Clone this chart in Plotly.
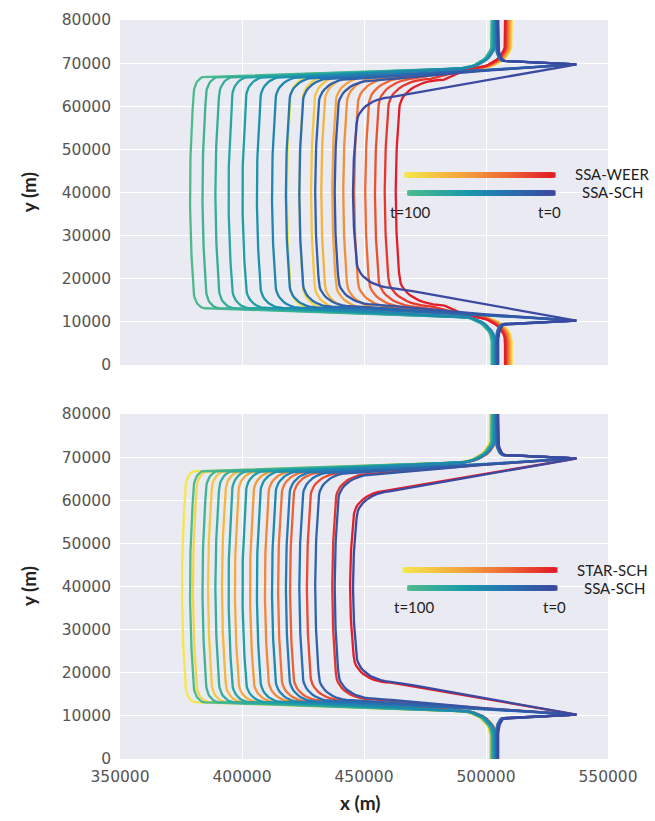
import numpy as np
import plotly.graph_objects as go
from plotly.colors import sample_colorscale

# ---------------- data ----------------
X_RANGE = [350000, 550000]
Y_RANGE = [0, 80000]
X_TICKS = [350000, 400000, 450000, 500000, 550000]
Y_TICKS = [0, 10000, 20000, 30000, 40000, 50000, 60000, 70000, 80000]

# calving-front x position at mid-channel, ordered t=0 ... t=100
SCH_FRONT = [445500, 438000, 430000, 423500, 418000, 412300, 406100, 400200, 394500, 389100, 383800, 378700]
WEER_FRONT = [463000, 458500, 454500, 450500, 446000, 441500, 437000, 432500, 428300, 423500, 418400]
STAR_FRONT = [444300, 437000, 426600, 419700, 414800, 409400, 403300, 397100, 391800, 386100, 379900, 375400]

# x of the upstream (vertical) boundary segment, t=0 ... t=100
SCH_TOP_X = [505000, 504800, 504500, 504300, 504000, 503700, 503500, 503200, 503000, 502700, 502500, 502300]
WEER_TOP_X = [507800, 508100, 508400, 508700, 509000, 509300, 509500, 509800, 510000, 510300, 510500]
STAR_TOP_X = [504500, 504200, 504000, 503700, 503500, 503200, 503000, 502700, 502400, 502100, 501900, 501700]

# vertical shift of the lateral-margin band for each contour, t=0 ... t=100
SCH_BAND_OFF = [-5600, -1600, -1000, -700, -400, -200, 0, 150, 300, 450, 600, 750]
WEER_BAND_OFF = [-2000, -1700, -1400, -1200, -1000, -800, -600, -400, -200, 0, 200]
STAR_BAND_OFF = [-5400, -1400, -1000, -700, -400, -200, 0, 150, 300, 450, 600, 800]

SPIKE_TIP = (537000, 69700)

TOP_LABELS = ["SSA-WEER", "SSA-SCH"]
BOT_LABELS = ["STAR-SCH", "SSA-SCH"]
T_LABELS = ["t=100", "t=0"]

# colour scales: position 0 -> t=0, 1 -> t=100
WARM = [[0.0, "#E31E28"], [0.3, "#EE6734"], [0.55, "#F29A3C"], [0.8, "#F5C443"], [1.0, "#F4E74C"]]
COOL = [[0.0, "#3B4AA0"], [0.35, "#2478B4"], [0.6, "#1A9BA8"], [1.0, "#4DBA8E"]]
# ----------------------------------------------------------------


def band(x):
    return 66000 + (x - 380000) * 0.0208


def contour(x_t, x_f, off, spike, slant):
    pts = []
    for y in np.linspace(80000, 74500, 6):
        pts.append((x_t, y))
    th = np.linspace(0, np.pi / 2, 12)[1:]
    if spike:
        for t in th:
            pts.append((x_t + 3000 - 3000 * np.cos(t), 74500 - 4000 * np.sin(t)))
        pts.append(SPIKE_TIP)
        if not slant:
            pts.append((500000, band(500000) + 0.15 * off))
    else:
        for t in th:
            pts.append((x_t - 15000 + 15000 * np.cos(t), 74500 - 5800 * np.sin(t)))
    xs, ys = pts[-1]
    bulge = 1500
    xc = x_f + bulge
    rx = 4000 + 0.16 * (x_f - 375000)
    ry = 4000 + 0.03 * (x_f - 375000)
    x_cs = xc + rx
    y_cs = band(x_cs) + off
    for s in np.linspace(0, 1, 25)[1:]:
        pts.append((xs + (x_cs - xs) * s, ys + (y_cs - ys) * s))
    for t in np.linspace(0, np.pi / 2, 14)[1:]:
        pts.append((x_cs - rx * np.sin(t), y_cs - ry + ry * np.cos(t)))
    y_top = y_cs - ry
    for y in np.linspace(y_top, 40000, 25)[1:]:
        u = (y - 40000) / (y_top - 40000)
        pts.append((x_f + bulge * u * u, y))
    full = pts + [(x, 80000 - y) for (x, y) in reversed(pts[:-1])]
    xs_, ys_ = zip(*full)
    return list(xs_), list(ys_)


def add_run(fig, fronts, tops, offs, scale, spike_n, xa, ya):
    n = len(fronts)
    cols = sample_colorscale(scale, [i / (n - 1) for i in range(n)])
    for i in reversed(range(n)):
        x, y = contour(tops[i], fronts[i], offs[i], i < spike_n, i == 0)
        fig.add_trace(go.Scatter(x=x, y=y, mode="lines", xaxis=xa, yaxis=ya,
                                 line=dict(color=cols[i], width=2.3),
                                 hoverinfo="skip", showlegend=False))


def add_bar(fig, x0, x1, y, scale, xa, ya):
    xs = np.linspace(x0, x1, 160)
    c = np.linspace(1, 0, 160)
    fig.add_trace(go.Scatter(x=xs, y=[y] * len(xs), mode="markers", xaxis=xa, yaxis=ya,
                             marker=dict(symbol="square", size=5, color=c, colorscale=scale,
                                         cmin=0, cmax=1, line=dict(width=0)),
                             hoverinfo="skip", showlegend=False))


fig = go.Figure()
# top panel
add_run(fig, WEER_FRONT, WEER_TOP_X, WEER_BAND_OFF, WARM, 0, "x", "y")
add_run(fig, SCH_FRONT, SCH_TOP_X, SCH_BAND_OFF, COOL, 5, "x", "y")
add_bar(fig, 467500, 527500, 44050, WARM, "x", "y")
add_bar(fig, 468700, 527500, 39880, COOL, "x", "y")
# bottom panel
add_run(fig, STAR_FRONT, STAR_TOP_X, STAR_BAND_OFF, WARM, 2, "x2", "y2")
add_run(fig, SCH_FRONT, SCH_TOP_X, SCH_BAND_OFF, COOL, 5, "x2", "y2")
add_bar(fig, 466800, 528300, 43830, WARM, "x2", "y2")
add_bar(fig, 468700, 528300, 39650, COOL, "x2", "y2")

BG = "#EAEAF2"
tickfont = dict(family="DejaVu Sans", size=15.5, color="#555555")
ax_common = dict(showgrid=True, gridcolor="white", gridwidth=1.2, zeroline=False,
                 showline=False, ticks="", tickformat="d", tickfont=tickfont,
                 automargin=False)

fig.update_layout(
    width=655, height=821,
    margin=dict(l=120, r=47, t=20, b=62),
    paper_bgcolor="white", plot_bgcolor=BG,
    showlegend=False,
    xaxis=dict(range=X_RANGE, tickvals=X_TICKS, showticklabels=False, anchor="y",
               domain=[0, 1], **ax_common),
    yaxis=dict(range=Y_RANGE, tickvals=Y_TICKS, anchor="x", domain=[0.5332, 1.0],
               ticklabelstandoff=8, **ax_common),
    xaxis2=dict(range=X_RANGE, tickvals=X_TICKS, anchor="y2", domain=[0, 1],
                ticklabelstandoff=6, **ax_common),
    yaxis2=dict(range=Y_RANGE, tickvals=Y_TICKS, anchor="x2", domain=[0.0, 0.4668],
                ticklabelstandoff=8, **ax_common),
)

title_font = dict(family="Lato", size=19, color="#222222")
lab_font = dict(family="Lato", size=15, color="#222222")
ann = []
ann.append(dict(text="<b>y (m)</b>", x=-0.1885, y=0.767, textangle=-90, font=title_font))
ann.append(dict(text="<b>y (m)</b>", x=-0.1885, y=0.234, textangle=-90, font=title_font))
ann.append(dict(text="<b>x (m)</b>", x=0.4918, y=-0.0582, font=title_font))
ann.append(dict(text=TOP_LABELS[0], x=1.0082, y=0.7916, font=lab_font))
ann.append(dict(text=TOP_LABELS[1], x=1.0082, y=0.7673, font=lab_font))
ann.append(dict(text=T_LABELS[0], x=0.594, y=0.740, font=lab_font))
ann.append(dict(text=T_LABELS[1], x=0.881, y=0.740, font=lab_font))
ann.append(dict(text=BOT_LABELS[0], x=1.010, y=0.2558, font=lab_font))
ann.append(dict(text=BOT_LABELS[1], x=1.013, y=0.2314, font=lab_font))
ann.append(dict(text=T_LABELS[0], x=0.6025, y=0.2057, font=lab_font))
ann.append(dict(text=T_LABELS[1], x=0.891, y=0.2057, font=lab_font))
for a in ann:
    a.update(xref="paper", yref="paper", showarrow=False, xanchor="center", yanchor="middle")
fig.update_layout(annotations=ann)

fig.write_html("out.html", config={"displayModeBar": False},
               post_script="document.body.style.margin='0';document.body.style.overflow='hidden';")
